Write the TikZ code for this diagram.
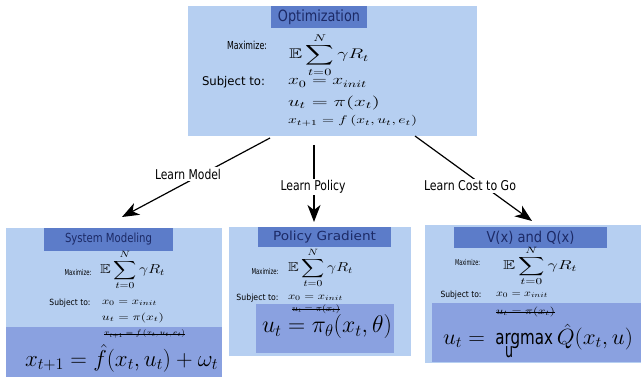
\RequirePackage{fix-cm}
\documentclass[tikz,border=0pt]{standalone}
\usepackage{amsmath,amssymb}
\usepackage{fontspec}
\usepackage{graphicx}
\newfontfamily\dv{DejaVu Sans}
\usetikzlibrary{arrows.meta}
\definecolor{lightbox}{HTML}{B6CFF1}
\definecolor{darkbox}{HTML}{8AA1E0}
\definecolor{titlebox}{HTML}{5C7CC9}
\definecolor{titletext}{HTML}{1C2A66}
\newcommand{\fs}[1]{\fontsize{#1}{#1}\selectfont}
\newcommand{\wfit}[2]{\resizebox{#1}{\height}{#2}}
\begin{document}
\begin{tikzpicture}[x=1pt,y=-1pt,
  panel/.style={fill=lightbox, draw=none, anchor=north west, inner sep=0pt, outer sep=0pt},
  overlay/.style={fill=darkbox, draw=none, anchor=north west, inner sep=0pt, outer sep=0pt},
  ttl/.style={fill=titlebox, draw=none, anchor=north west, inner sep=0pt, outer sep=0pt, text=titletext},
  txt/.style={inner sep=0pt, outer sep=0pt},
  lab/.style={fill=white, inner sep=1.5pt, font=\dv\fs{13.5}},
  arr/.style={line width=1.2pt, -{Stealth[length=17pt,width=13pt,inset=5pt]}},
  strike/.style={line width=0.6pt}
]
\fill[white] (0,0) rectangle (641,377);
\useasboundingbox (0,0) rectangle (641,377);

% ---------- top box ----------
\node[panel, minimum width=289pt, minimum height=130pt] (top) at (188,6) {};
\node[ttl, minimum width=96pt, minimum height=22pt, font=\dv\fs{15.5}] (topt) at (271,6) {\wfit{82pt}{Optimization}};
\node[txt] (tmax) at (247,45) {\dv\fs{11}\wfit{40pt}{Maximize:}};
\node[txt, anchor=west] (tsum) at (289,55) {\fs{14}\wfit{80pt}{$\displaystyle\mathbb{E}\sum_{t=0}^{N}\gamma R_t$}};
\node[txt, anchor=west] (tsub) at (202,82) {\dv\fs{12}\wfit{63pt}{Subject to:}};
\node[txt, anchor=west] (tx0) at (288,83) {\fs{14}\wfit{79pt}{$x_0 = x_{init}$}};
\node[txt, anchor=west] (tut) at (288,103) {\fs{14}\wfit{92pt}{$u_t = \pi(x_t)$}};
\node[txt, anchor=west] (txt1) at (288,121) {\fs{11}\wfit{129pt}{$x_{t+1} = f\,(x_t, u_t, e_t)$}};

% ---------- left box ----------
\node[panel, minimum width=216pt, minimum height=149pt] (lbox) at (6,228) {};
\node[overlay, minimum width=216pt, minimum height=50pt] (lover) at (6,327) {};
\node[ttl, minimum width=129pt, minimum height=23pt, font=\dv\fs{12.5}] (lt) at (44,228) {\wfit{87pt}{System Modeling}};
\node[txt] (lmax) at (78,273) {\dv\fs{8}\wfit{27pt}{Maximize:}};
\node[txt, anchor=west] (lsum) at (100,270) {\fs{13}\wfit{65pt}{$\displaystyle\mathbb{E}\sum_{t=0}^{N}\gamma R_t$}};
\node[txt] (lsub) at (70,303) {\dv\fs{8.5}\wfit{41pt}{Subject to:}};
\node[txt, anchor=west] (lx0) at (102,303) {\fs{10}\wfit{55pt}{$x_0 = x_{init}$}};
\node[txt, anchor=west] (lut) at (102,318) {\fs{10}\wfit{62pt}{$u_t = \pi(x_t)$}};
\node[txt, anchor=west] (lst) at (104,334) {\fs{8}\wfit{81pt}{$x_{t+1} = f\,(x_t, u_t, e_t)$}};
\draw[strike] (lst.west) -- (lst.east);
\node[txt, anchor=west] (lbig) at (25,358) {\fs{23}\wfit{193pt}{$x_{t+1} = \hat{f}(x_t, u_t) + \omega_t$}};

% ---------- middle box ----------
\node[panel, minimum width=182pt, minimum height=129pt] (mbox) at (229,227) {};
\node[ttl, minimum width=133pt, minimum height=20pt, font=\dv\fs{12.5}] (mt) at (258,227) {\wfit{103pt}{Policy Gradient}};
\node[txt] (mmax) at (265,272) {\dv\fs{8}\wfit{27pt}{Maximize:}};
\node[txt, anchor=west] (msum) at (288,268) {\fs{13}\wfit{65pt}{$\displaystyle\mathbb{E}\sum_{t=0}^{N}\gamma R_t$}};
\node[txt] (msub) at (257.5,298) {\dv\fs{8.5}\wfit{42pt}{Subject to:}};
\node[txt, anchor=west] (mx0) at (288,298) {\fs{10}\wfit{55pt}{$x_0 = x_{init}$}};
\node[overlay, minimum width=138pt, minimum height=49pt] (mover) at (256,304) {};
\node[txt, anchor=west] (mst) at (292,309) {\fs{9}\wfit{48pt}{$u_t = \pi(x_t)$}};
\draw[strike] (mst.west) -- (mst.east);
\node[txt, anchor=west] (mbig) at (262,327) {\fs{24}\wfit{130pt}{$u_t = \pi_\theta(x_t, \theta)$}};

% ---------- right box ----------
\node[panel, minimum width=216pt, minimum height=138pt] (rbox) at (425,225) {};
\node[ttl, minimum width=153pt, minimum height=21pt, font=\dv\fs{15}] (rt) at (454,227) {\wfit{88pt}{V(x) and Q(x)}};
\node[txt] (rmax) at (467.5,263) {\dv\fs{8}\wfit{25pt}{Maximize:}};
\node[txt, anchor=west] (rsum) at (503,266) {\fs{13}\wfit{74pt}{$\displaystyle\mathbb{E}\sum_{t=0}^{N}\gamma R_t$}};
\node[txt] (rsub) at (461,295) {\dv\fs{8.5}\wfit{41pt}{Subject to:}};
\node[txt, anchor=west] (rx0) at (496,295) {\fs{10}\wfit{52pt}{$x_0 = x_{init}$}};
\node[overlay, minimum width=209pt, minimum height=59pt] (rover) at (432,303) {};
\node[txt, anchor=west] (rst) at (496,312) {\fs{10}\wfit{59pt}{$u_t = \pi(x_t)$}};
\draw[strike] (rst.west) -- (rst.east);
\node[txt, anchor=west] (rbig) at (443,337) {\fs{22}\wfit{190pt}{$u_t = {}$\,{\dv\fs{20}\wfit{55pt}{argmax}}\,$\hat{Q}(x_t, u)$}};
\node[txt] (ru) at (509,352.5) {\dv\fs{20}\wfit{8pt}{u}};

% ---------- connectors ----------
\coordinate (a1s) at (270,138);
\coordinate (a1e) at (122,217);
\coordinate (a2s) at (314,145);
\coordinate (a2e) at (314,222);
\coordinate (a3s) at (415,136);
\coordinate (a3e) at (532,221);
\draw[arr] (a1s) -- (a1e);
\draw[arr] (a2s) -- (a2e);
\draw[arr] (a3s) -- (a3e);
\node[lab] (l1) at (188,174) {\wfit{66pt}{Learn Model}};
\node[lab] (l2) at (313,187) {\wfit{65pt}{Learn Policy}};
\node[lab] (l3) at (470,186) {\wfit{92pt}{Learn Cost to Go}};
\end{tikzpicture}
\end{document}
